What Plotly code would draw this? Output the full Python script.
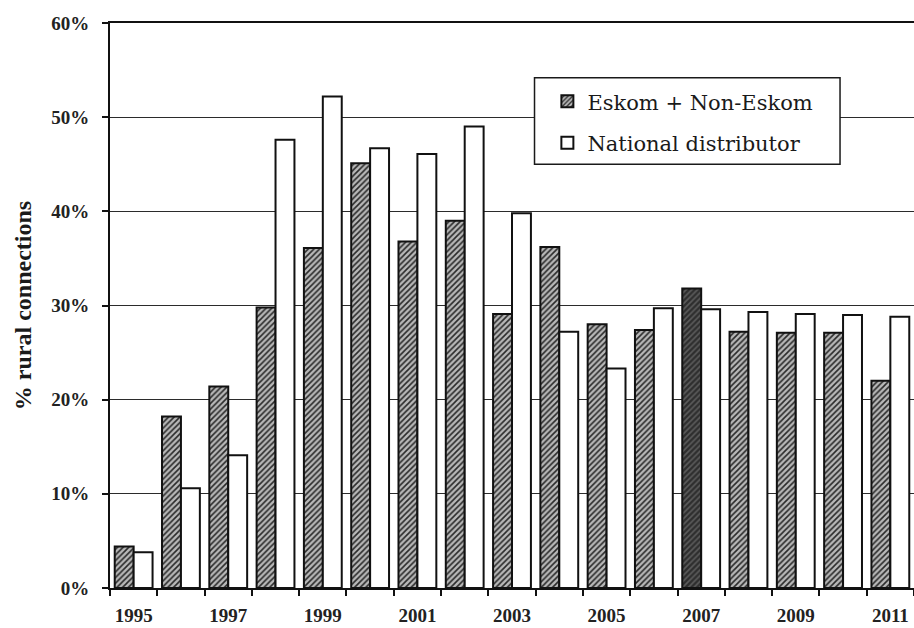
import plotly.graph_objects as go

# Rural share of new electricity connections, by year
years = [str(y) for y in range(1995, 2012)]
year_labels = [y if int(y) % 2 == 1 else "" for y in years]

eskom_non_eskom = [4.4, 18.2, 21.4, 29.8, 36.1, 45.1, 36.8, 39.0, 29.1, 36.2,
                   28.0, 27.4, 31.8, 27.2, 27.1, 27.1, 22.0]
national_distributor = [3.8, 10.6, 14.1, 47.6, 52.2, 46.7, 46.1, 49.0, 39.8, 27.2,
                        23.3, 29.7, 29.6, 29.3, 29.1, 29.0, 28.8]

y_ticks = [0, 10, 20, 30, 40, 50, 60]
y_tick_labels = [f"{v}%" for v in y_ticks]

# hatch colours: one year's bar is printed much darker
hatch_bg = ["#2e2e2e" if y == "2007" else "#b8b8b8" for y in years]
hatch_fg = ["#5c5c5c" if y == "2007" else "#2a2a2a" for y in years]

fig = go.Figure()
fig.add_trace(go.Bar(
    x=years, y=eskom_non_eskom, name="Eskom + Non-Eskom",
    legendgroup="a",
    marker=dict(
        color="#b8b8b8",
        line=dict(color="#111111", width=2),
        pattern=dict(shape="/", fgcolor=hatch_fg, bgcolor=hatch_bg,
                     size=4, solidity=0.4, fillmode="replace"),
    ),
))
fig.add_trace(go.Bar(
    x=years, y=national_distributor, name="National distributor",
    legendgroup="b",
    marker=dict(color="#ffffff", line=dict(color="#111111", width=2)),
))

# legend frame (white box that hides the gridline behind it)
fig.add_shape(type="rect", xref="paper", yref="paper",
              x0=0.528, x1=0.908, y0=0.750, y1=0.903,
              line=dict(color="#1a1a1a", width=1.5),
              fillcolor="#ffffff", layer="above")

tick_font = dict(family="Liberation Serif", size=19, weight="bold", color="#222222")

fig.update_layout(
    width=914, height=628,
    margin=dict(l=110, r=0, t=23, b=40),
    paper_bgcolor="#ffffff", plot_bgcolor="#ffffff",
    font=dict(family="Liberation Serif", color="#1a1a1a", size=20),
    barmode="group", bargap=0.2, bargroupgap=0.0,
    showlegend=True,
    legend=dict(
        x=0.544, y=0.897, xanchor="left", yanchor="top",
        bgcolor="rgba(0,0,0,0)", borderwidth=0,
        font=dict(family="DejaVu Serif", size=21, color="#1a1a1a"),
        traceorder="grouped", tracegroupgap=11,
    ),
    xaxis=dict(
        type="category", tickmode="array", tickvals=years, ticktext=year_labels,
        tickson="boundaries", ticks="outside", ticklen=6, tickwidth=1.5,
        tickcolor="#111111", ticklabelstandoff=9, tickangle=0,
        automargin=False,
        showline=True, linecolor="#111111", linewidth=2, mirror=True,
        showgrid=False,
        tickfont=tick_font,
    ),
    yaxis=dict(
        range=[0, 60], tickmode="array", tickvals=y_ticks, ticktext=y_tick_labels,
        ticks="outside", ticklen=6, tickwidth=1.5, tickcolor="#111111",
        ticklabelstandoff=9, automargin=False,
        showline=True, linecolor="#111111", linewidth=2, mirror=True,
        showgrid=True, gridcolor="#2b2b2b", gridwidth=1, zeroline=False,
        tickfont=tick_font,
        title=dict(text="% rural connections", standoff=13,
                   font=dict(family="Liberation Serif", size=24, weight="bold",
                             color="#1a1a1a")),
    ),
)

fig.write_html("out.html")
